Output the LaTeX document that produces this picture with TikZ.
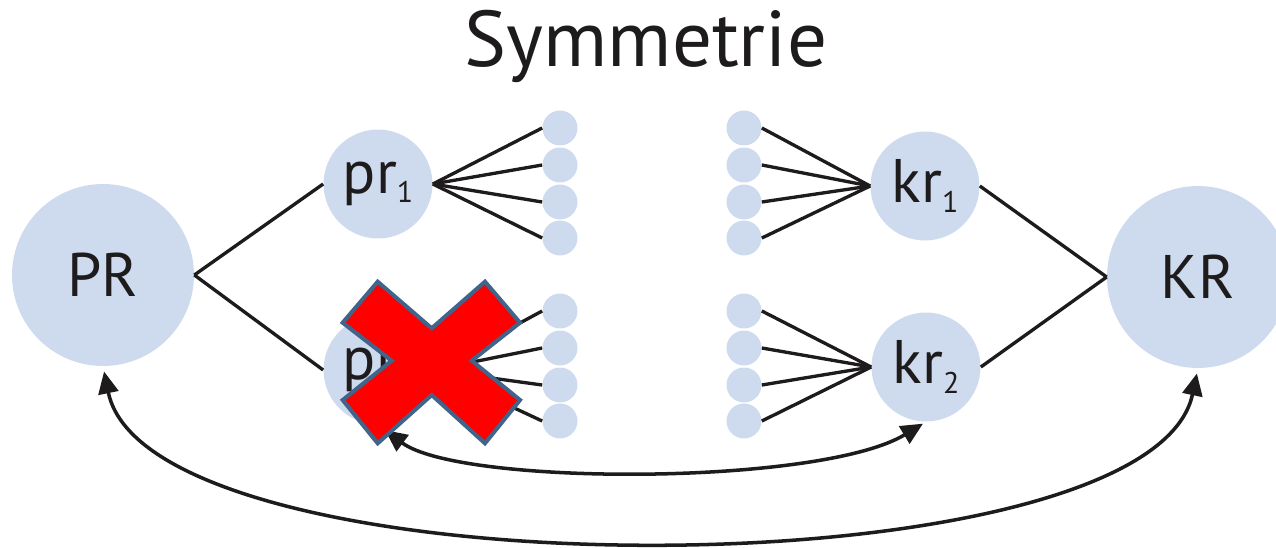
\documentclass[tikz,border=0pt]{standalone}
\usepackage{fontspec}
\setmainfont{PT Sans}
\usetikzlibrary{arrows.meta}
\definecolor{cblue}{RGB}{206,219,238}
\definecolor{ctext}{RGB}{30,27,28}
\definecolor{xborder}{RGB}{65,100,138}
\newcommand{\subn}[1]{\raisebox{-0.3ex}{\fontsize{17}{17}\selectfont #1}}
\tikzset{
  big/.style={circle, fill=cblue, inner sep=0pt, minimum size=3.64cm, text=ctext, font=\fontsize{35}{35}\selectfont},
  mid/.style={circle, fill=cblue, inner sep=0pt, minimum size=2.18cm, text=ctext, font=\fontsize{35}{35}\selectfont},
  dot/.style={circle, fill=cblue, inner sep=0pt, minimum size=0.7cm},
  link/.style={line width=1.9pt, draw=ctext},
  fan/.style={line width=1.9pt, draw=ctext},
  arc/.style={line width=2pt, draw=ctext, {Triangle[length=0.44cm,width=0.4cm]}-{Triangle[length=0.44cm,width=0.4cm]}},
  crossx/.style={fill=red, draw=xborder, line width=2.3pt, line join=miter}
}
\begin{document}
\begin{tikzpicture}[x=0.02cm,y=-0.02cm]
\clip (0,0) rectangle (1276,548);
% title
\node[anchor=base, text=ctext, font=\fontsize{45}{45}\selectfont] (title) at (646,66) {Symmetrie};
% big nodes
\node[big] (PR) at (103,275) {PR};
\node[big] (KR) at (1198,277) {KR};
% middle nodes
\node[mid] (pr1) at (378,184) {pr\subn{1}};
\node[mid] (pr2) at (378,370) {pr\subn{2}};
\node[mid] (kr1) at (925,186) {kr\subn{1}};
\node[mid] (kr2) at (926,367) {kr\subn{2}};
% dots
\foreach \i/\y in {1/128,2/165,3/202,4/238}{
  \node[dot] (a\i) at (560,\y) {};
  \node[dot] (b\i) at (744,\y) {};
}
\foreach \i/\y in {1/311,2/348,3/385,4/421}{
  \node[dot] (c\i) at (560,\y) {};
  \node[dot] (d\i) at (744,\y) {};
}
% links
\draw[link] (PR.east) -- (pr1.west);
\draw[link] (PR.east) -- (pr2.west);
\draw[link] (KR.west) -- (kr1.east);
\draw[link] (KR.west) -- (kr2.east);
% fans
\foreach \i in {1,2,3,4}{
  \draw[fan] (pr1.east) -- (a\i.west);
  \draw[fan] (pr2.east) -- (c\i.west);
  \draw[fan] (kr1.west) -- (b\i.east);
  \draw[fan] (kr2.west) -- (d\i.east);
}
% arcs
\draw[arc, shorten <=5pt, shorten >=2pt] (pr2.south) .. controls (460,486) and (820,486) .. (kr2.south);
\draw[arc, shorten <=3pt, shorten >=3pt] (PR.south) .. controls (150,596) and (1150,596) .. (KR.south);
% cross
\draw[crossx] (377.7,281.7) -- (431.7,328.3) -- (485,281.7) -- (520,322.7) -- (471.7,360.7)
  -- (520,400) -- (485,443.3) -- (431.7,395) -- (377.7,443.3) -- (342.7,400) -- (391.7,360.7)
  -- (342.7,322.7) -- cycle;
\end{tikzpicture}
\end{document}
